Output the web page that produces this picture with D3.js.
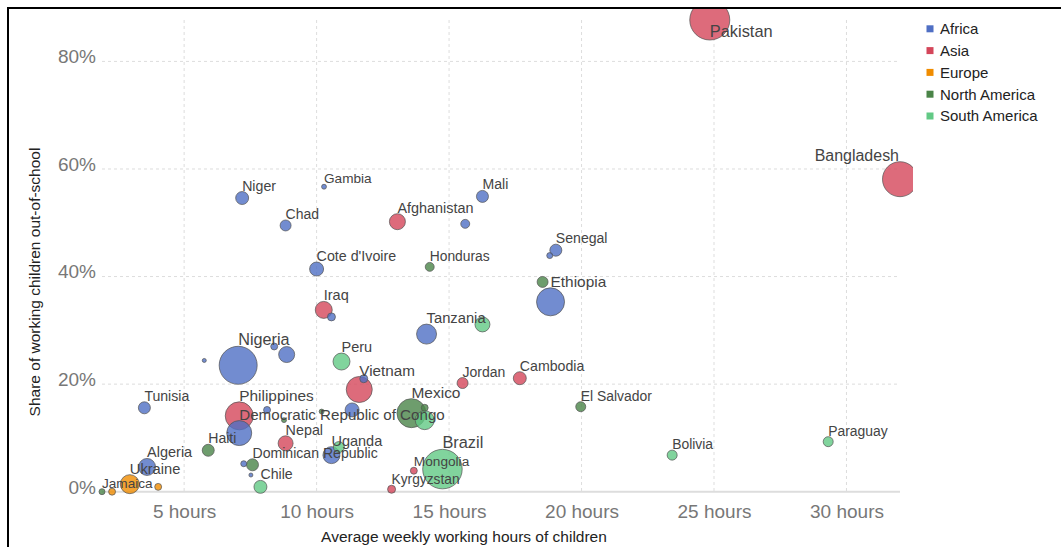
<!DOCTYPE html>
<html>
<head>
<meta charset="utf-8">
<script src="https://cdn.jsdelivr.net/npm/d3@7"></script>
<style>
  html, body { margin: 0; padding: 0; background: #fff; }
  svg { display: block; font-family: "Liberation Sans", Arial, sans-serif; }
</style>
</head>
<body>
<svg id="chart" width="1061" height="547"></svg>
<script>
// ---- Data ----
const countries = [
  "Niger","Gambia","Chad","Mali","","Senegal","","Cote d'Ivoire","Ethiopia","","Tanzania","Nigeria","","","","","Tunisia","","Democratic Republic of Congo","","Uganda","Algeria","","",
  "Pakistan","Bangladesh","Afghanistan","Iraq","Vietnam","Jordan","Cambodia","Philippines","Nepal","Mongolia","Kyrgyzstan",
  "Ukraine","","",
  "Jamaica","Honduras","","Mexico","","","","El Salvador","Haiti","Dominican Republic",
  "Peru","","","Brazil","","Chile","Bolivia","Paraguay"
];
const continents = [
  "Africa","Africa","Africa","Africa","Africa","Africa","Africa","Africa","Africa","Africa","Africa","Africa","Africa","Africa","Africa","Africa","Africa","Africa","Africa","Africa","Africa","Africa","Africa","Africa",
  "Asia","Asia","Asia","Asia","Asia","Asia","Asia","Asia","Asia","Asia","Asia",
  "Europe","Europe","Europe",
  "North America","North America","North America","North America","North America","North America","North America","North America","North America","North America",
  "South America","South America","South America","South America","South America","South America","South America","South America"
];
// average weekly working hours of children
const hours = [
  7.19,10.28,8.83,16.26,15.61,19.03,18.80,10.00,18.83,10.56,14.15,7.04,8.87,8.40,5.76,11.78,3.50,8.13,7.08,11.34,10.56,3.60,7.25,7.52,
  24.84,32.02,13.05,10.27,11.61,15.51,17.67,7.08,8.83,13.67,12.83,
  2.95,2.28,4.02,
  1.90,14.27,18.53,13.58,14.08,10.19,8.77,19.97,5.91,7.58,
  10.94,16.26,14.08,14.75,10.84,7.88,23.42,29.31
];
// share of working children out of school
const outOfSchool = [
  0.546,0.567,0.495,0.549,0.498,0.449,0.439,0.414,0.353,0.325,0.293,0.235,0.255,0.270,0.244,0.210,0.156,0.152,0.109,0.152,0.068,0.046,0.052,0.031,
  0.877,0.581,0.502,0.338,0.190,0.202,0.211,0.141,0.090,0.039,0.0045,
  0.014,0.000,0.009,
  0.000,0.418,0.390,0.146,0.156,0.149,0.133,0.158,0.077,0.050,
  0.242,0.311,0.133,0.042,0.083,0.009,0.068,0.093
];
// relative number of working children (bubble area)
const childCount = [
  42,6,30,36,20,36,9,49,196,16,100,361,64,12,4,16,36,12,156,49,72,72,9,4,
  400,306,64,72,169,30,42,196,56,12,16,
  90,12,12,
  9,20,30,210,12,6,6,25,36,36,
  72,56,90,390,30,42,25,25
];
const continentNames = ["Africa","Asia","Europe","North America","South America"];
const continentColors = ["#4f6fc4","#d4465a","#f08c00","#4a8448","#62c985"];
const xTicks = [5,10,15,20,25,30];
const yTicks = [0,0.2,0.4,0.6,0.8];

const data = countries.map((c,i)=>({name:c, continent:continents[i], h:hours[i], p:outOfSchool[i], n:childCount[i]}));

// ---- Layout ----
const svg = d3.select("#chart");
const plotLeft = 102, plotRight = 900, plotTop = 20, plotBottom = 491.7;

// frame
svg.append("rect").attr("x",8).attr("y",8).attr("width",1200).attr("height",700)
  .attr("fill","none").attr("stroke","#000").attr("stroke-width",2);

const x = d3.scaleLinear().domain(d3.extent(hours)).range([plotLeft,plotRight]);
const y = d3.scaleLinear().domain([0, d3.max(outOfSchool)]).range([plotBottom, plotTop]);
const r = d3.scaleSqrt().domain([0, d3.max(childCount)]).range([0, 20]);
const color = d3.scaleOrdinal().domain(continentNames).range(continentColors);
const fontSize = d3.scaleLinear().domain([3,20]).range([13.6,16.4]).clamp(true);

// gridlines
const grid = svg.append("g");
grid.selectAll("line.v").data(xTicks).join("line").attr("class","v")
  .attr("x1",d=>x(d)).attr("x2",d=>x(d)).attr("y1",plotTop).attr("y2",plotBottom)
  .attr("stroke","#ddd").attr("stroke-dasharray","3,3").attr("stroke-width",1);
grid.selectAll("line.h").data(yTicks.filter(d=>d>0)).join("line").attr("class","h")
  .attr("x1",plotLeft).attr("x2",plotRight).attr("y1",d=>y(d)).attr("y2",d=>y(d))
  .attr("stroke","#ddd").attr("stroke-dasharray","3,3").attr("stroke-width",1);

// x axis
const xAxis = d3.axisBottom(x).tickValues(xTicks).tickSize(0).tickPadding(13).tickFormat(d=>d+" hours");
const gx = svg.append("g").attr("transform",`translate(0,${plotBottom})`).call(xAxis);
gx.select(".domain").attr("stroke","#ddd").attr("stroke-width",2).attr("d",`M${plotLeft},0H${plotRight}`);
gx.selectAll("text").attr("fill","#777").attr("font-size",19).attr("font-family","Liberation Sans, Arial, sans-serif");

// y axis
const yAxis = d3.axisLeft(y).tickValues(yTicks).tickSize(0).tickPadding(6).tickFormat(d3.format(".0%"));
const gy = svg.append("g").attr("transform",`translate(${plotLeft},0)`).call(yAxis);
gy.select(".domain").remove();
gy.selectAll("text").attr("fill","#777").attr("font-size",19).attr("dy","0.07em").attr("font-family","Liberation Sans, Arial, sans-serif");

// axis titles
svg.append("text").attr("x",464).attr("y",542).attr("text-anchor","middle")
  .attr("font-size",15.5).attr("fill","#222").text("Average weekly working hours of children");
svg.append("text").attr("transform","translate(40,282) rotate(-90)").attr("text-anchor","middle")
  .attr("font-size",15.5).attr("fill","#222").text("Share of working children out-of-school");

// clip
svg.append("clipPath").attr("id","clip").append("rect").attr("x",9).attr("y",9).attr("width",904).attr("height",530);

const sorted = data.slice().sort((a,b)=>b.n-a.n);
const bubbles = svg.append("g").attr("clip-path","url(#clip)");
bubbles.selectAll("circle").data(sorted).join("circle")
  .attr("cx",d=>x(d.h)).attr("cy",d=>y(d.p)).attr("r",d=>r(d.n))
  .attr("fill",d=>color(d.continent)).attr("fill-opacity",0.8)
  .attr("stroke","#555").attr("stroke-opacity",0.8).attr("stroke-width",0.9);

// labels
const labels = svg.append("g");
data.filter(d=>d.name).forEach(d=>{
  const fs = fontSize(r(d.n));
  const t = labels.append("text").attr("font-size",fs).attr("fill","#444").text(d.name);
  const w = t.node().getComputedTextLength();
  const lx = Math.min(x(d.h), plotRight - w - 1);
  const ly = Math.max(y(d.p) - r(d.n) - 1, plotTop + fs + 1);
  t.attr("x",lx).attr("y",ly);
});

// legend
const lg = svg.append("g");
continentNames.forEach((c,i)=>{
  const cy = 28.8 + i*21.8;
  lg.append("rect").attr("x",926.5).attr("y",cy-3.5).attr("width",7).attr("height",7).attr("fill",color(c));
  lg.append("text").attr("x",940).attr("y",cy+5.4).attr("font-size",15).attr("fill","#222").text(c);
});
</script>
</body>
</html>
